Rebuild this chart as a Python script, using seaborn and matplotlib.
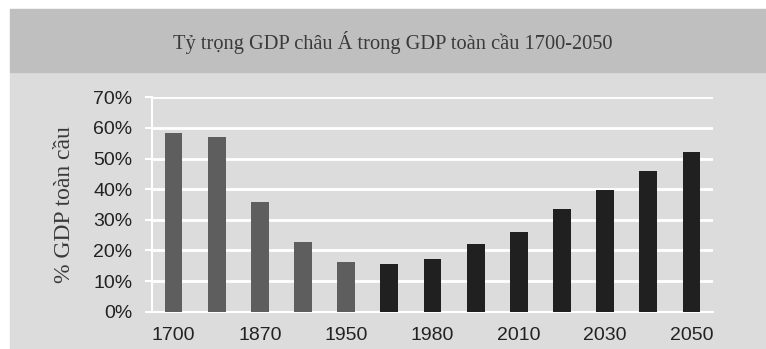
import numpy as np
import pandas as pd
import seaborn as sns
import matplotlib.pyplot as plt
from matplotlib.patches import Rectangle

years = ["1700", "1820", "1870", "1913", "1950", "1973", "1980", "2000",
         "2010", "2020", "2030", "2040", "2050"]
share = [58.5, 57.1, 35.9, 22.9, 16.3, 15.5, 17.2, 22.1, 26.0, 33.5, 39.7, 45.9, 52.2]
period = ["past"] * 5 + ["proj"] * 8
shown_labels = ["1700", "1870", "1950", "1980", "2010", "2030", "2050"]

title = "Tỷ trọng GDP châu Á trong GDP toàn cầu 1700-2050"
ylabel = "% GDP toàn cầu"

df = pd.DataFrame({"year": years, "share": share, "period": period})

sns.set_style("white")
plt.rcParams["font.family"] = ["Liberation Sans", "DejaVu Sans"]

fig = plt.figure(figsize=(7.66, 3.49), dpi=100)
W, H = 766, 349
# title band and panel background
fig.patches.append(Rectangle((10 / W, 0), 1 - 10 / W, 1 - 72 / H,
                             transform=fig.transFigure, color="#dcdcdc", zorder=-10))
fig.patches.append(Rectangle((10 / W, 1 - 72 / H), 1 - 10 / W, (72 - 9) / H,
                             transform=fig.transFigure, color="#bfbfbf", zorder=-10))

ax = fig.add_axes([152 / W, 1 - 311.7 / H, (713 - 152) / W, (311.7 - 97.3) / H])
ax.set_facecolor("#dcdcdc")

sns.barplot(data=df, x="year", y="share", hue="period", order=years,
            palette={"past": "#5e5e5e", "proj": "#202020"}, dodge=False,
            width=0.41, legend=False, saturation=1, linewidth=0, ax=ax, zorder=3)

ax.set_xlim(-0.5, 12.5)
ax.set_ylim(0, 70)
ax.set_yticks(np.arange(0, 71, 10))
ax.set_yticklabels([f"{v}%" for v in range(0, 71, 10)])
ax.set_xticks(range(len(years)))
ax.set_xticklabels([y if y in shown_labels else "" for y in years])
ax.set_xticks(np.arange(-0.5, 13, 1), minor=True)

ax.grid(axis="y", color="white", linewidth=2, zorder=1)
ax.grid(axis="x", visible=False)
for s in ["top", "right"]:
    ax.spines[s].set_visible(False)
for s in ["left", "bottom"]:
    ax.spines[s].set_color("white")
    ax.spines[s].set_linewidth(1.5)
    ax.spines[s].set_zorder(2)

ax.tick_params(axis="x", which="major", length=0, pad=11, labelsize=14, labelcolor="#222222")
ax.tick_params(axis="x", which="minor", length=4, width=1.2, color="white")
ax.tick_params(axis="y", length=5, width=1.5, color="white", pad=9,
               labelsize=14, labelcolor="#222222", left=True)

ax.set_xlabel("")
ax.set_ylabel(ylabel, family=["Liberation Serif", "DejaVu Serif"], fontsize=17,
              color="#3a3a3a")
ax.yaxis.set_label_coords(-0.137, 0.5)

fig.text(393 / W, 1 - 42 / H, title, ha="center", va="center",
         family=["Liberation Serif", "DejaVu Serif"], fontsize=14.7, color="#3a3a3a")

plt.savefig("out.png", dpi=100)
plt.close()
